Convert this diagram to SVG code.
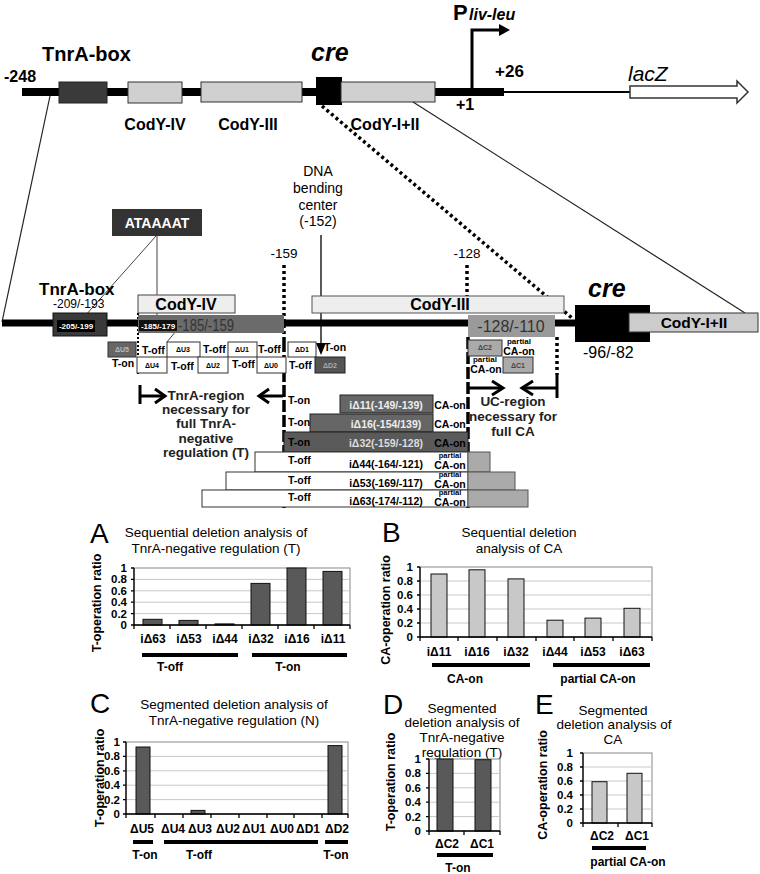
<svg xmlns="http://www.w3.org/2000/svg" width="760" height="874" viewBox="0 0 760 874">
<style>
text{font-family:"Liberation Sans",Arial,sans-serif;fill:#000}
.b{font-weight:bold}
.bi{font-weight:bold;font-style:italic}
.m{text-anchor:middle}
.e{text-anchor:end}
.lbl{font-size:10.5px;font-weight:bold}
.tiny{font-size:7px;font-weight:bold;text-anchor:middle}
.dbox{fill:#fff;stroke:#333;stroke-width:1}
.grid{stroke:#c8c8c8;stroke-width:1}
.frame{fill:#fff;stroke:#888;stroke-width:1}
.axis{stroke:#000;stroke-width:1.3;fill:none}
.ul{stroke:#000;stroke-width:4}
.dk{fill:#595959;stroke:#111;stroke-width:1}
.lt{fill:#c8c8c8;stroke:#111;stroke-width:1}
.tick{font-size:11.5px;font-weight:bold;text-anchor:end}
.cat{font-size:12px;font-weight:bold;text-anchor:middle}
.ttl{font-size:13.5px;text-anchor:middle}
.big{font-size:28px}
.chev{fill:none;stroke:#000;stroke-width:3}
</style>

<!-- ===== top map ===== -->
<g id="top-map">
<line x1="22" y1="92" x2="504" y2="92" stroke="#000" stroke-width="8"/>
<line x1="504" y1="92" x2="632" y2="92" stroke="#000" stroke-width="2"/>
<text x="4" y="82" class="b" font-size="16">-248</text>
</g>
<g id="top-tnra">
<rect x="59" y="82" width="48" height="21" fill="#3a3a3a" stroke="#222"/>
<text x="42" y="61" class="b" font-size="20">TnrA-box</text>
</g>
<g id="top-codyIV">
<rect x="128" y="82" width="54" height="21" fill="#d0d0d0" stroke="#333"/>
<text x="155" y="130" class="b m" font-size="16">CodY-IV</text>
</g>
<g id="top-codyIII">
<rect x="201" y="82" width="101" height="20" fill="#d0d0d0" stroke="#333"/>
<text x="248" y="130" class="b m" font-size="16">CodY-III</text>
</g>
<g id="top-cre">
<rect x="316" y="77" width="26" height="28" fill="#000"/>
<text x="311" y="61" class="bi" font-size="25">cre</text>
</g>
<g id="top-codyI">
<rect x="341" y="82" width="94" height="20" fill="#d0d0d0" stroke="#333"/>
<text x="385" y="130" class="b m" font-size="16">CodY-I+II</text>
</g>
<g id="promoter">
<path d="M472 92 V30 H500" fill="none" stroke="#000" stroke-width="3"/>
<polygon points="499,24 510,30 499,36" fill="#000"/>
<text x="453" y="20" class="b" font-size="22">P</text>
<text x="469" y="20" class="bi" font-size="16">liv-leu</text>
<text x="495" y="77" class="b" font-size="17">+26</text>
<text x="456" y="110" class="b" font-size="16">+1</text>
</g>
<g id="lacZ">
<path d="M630 86 H737 V81 L748 92 L737 103 V98 H630 Z" fill="#fff" stroke="#333" stroke-width="1.5"/>
<text x="628" y="81" font-size="21" font-style="italic">lacZ</text>
</g>

<!-- ===== connectors ===== -->
<g id="connectors" fill="none">
<line x1="50" y1="96" x2="2" y2="322" stroke="#222" stroke-width="1.2"/>
<line x1="322" y1="106" x2="572" y2="318" stroke="#000" stroke-width="3.5" stroke-dasharray="3,3"/>
<line x1="413" y1="102" x2="745" y2="313" stroke="#222" stroke-width="1.2"/>
<line x1="156" y1="236" x2="85" y2="316" stroke="#444" stroke-width="1"/>
<line x1="157" y1="236" x2="157" y2="322" stroke="#444" stroke-width="1"/>
<line x1="176" y1="331" x2="167" y2="342" stroke="#444" stroke-width="1"/>
<line x1="321" y1="235" x2="321" y2="345" stroke="#000" stroke-width="1.3"/>
<polygon points="316,343 326,343 321,355" fill="#000"/>
<line x1="284" y1="265" x2="284" y2="340" stroke="#000" stroke-width="3.5" stroke-dasharray="3,3"/>
<line x1="284" y1="340" x2="284" y2="508" stroke="#000" stroke-width="3.5" stroke-dasharray="12,3"/>
<line x1="467" y1="265" x2="467" y2="296" stroke="#000" stroke-width="3.5" stroke-dasharray="3,3"/>
<line x1="468" y1="337" x2="468" y2="508" stroke="#000" stroke-width="3.5" stroke-dasharray="12,3"/>
<line x1="557" y1="337" x2="557" y2="375" stroke="#000" stroke-width="3.5" stroke-dasharray="3,3"/>
<line x1="557" y1="375" x2="557" y2="398" stroke="#000" stroke-width="3"/>
<line x1="138" y1="313" x2="138" y2="374" stroke="#000" stroke-width="2" stroke-dasharray="2,2"/>
</g>

<g id="labels-pos">
<text x="284" y="258" class="m" font-size="13.5">-159</text>
<text x="467" y="258" class="m" font-size="13.5">-128</text>
<text x="318" y="176" class="m" font-size="14">DNA</text>
<text x="318" y="193" class="m" font-size="14">bending</text>
<text x="318" y="210" class="m" font-size="14">center</text>
<text x="318" y="226" class="m" font-size="14">(-152)</text>
</g>

<g id="ataaaat">
<rect x="112" y="209" width="90" height="27" fill="#333"/>
<text x="157" y="228" class="b m" font-size="14" style="fill:#fff">ATAAAAT</text>
</g>

<!-- ===== lower map ===== -->
<g id="lower-map">
<line x1="2" y1="323" x2="576" y2="323" stroke="#000" stroke-width="7"/>
</g>
<g id="lower-tnra">
<rect x="53" y="313" width="54" height="23" fill="#3a3a3a" stroke="#111"/>
<rect x="57" y="320" width="38" height="12" fill="#000"/>
<text x="76" y="329" class="b m" font-size="8" style="fill:#fff">-205/-199</text>
<text x="39" y="295" class="b" font-size="17">TnrA-box</text>
<text x="53" y="308" font-size="12">-209/-193</text>
</g>
<g id="lower-codyIV">
<rect x="138" y="295" width="97" height="18" fill="#eee" stroke="#444"/>
<text x="186" y="310" class="b m" font-size="16">CodY-IV</text>
</g>
<g id="seg-185">
<rect x="138" y="315" width="146" height="18" fill="#6b6b6b"/>
<text x="178" y="331" font-size="16" style="fill:#333" textLength="56" lengthAdjust="spacingAndGlyphs">-185/-159</text>
<rect x="139" y="320" width="38" height="11" fill="#111"/>
<text x="158" y="329" class="b m" font-size="8" style="fill:#fff">-185/-179</text>
</g>
<g id="lower-codyIII">
<rect x="312" y="296" width="252" height="17" fill="#eee" stroke="#555"/>
<text x="440" y="310" class="b m" font-size="16">CodY-III</text>
</g>
<g id="seg-128">
<rect x="468" y="315" width="87" height="22" fill="#9a9a9a"/>
<text x="511" y="332" class="m" font-size="16" style="fill:#333">-128/-110</text>
</g>
<g id="lower-cre">
<rect x="575" y="305" width="75" height="37" fill="#000"/>
<text x="588" y="297" class="bi" font-size="25">cre</text>
<text x="583" y="358" font-size="16">-96/-82</text>
</g>
<g id="lower-codyI">
<rect x="629" y="313" width="129" height="19" fill="#ccc" stroke="#333"/>
<text x="694" y="328" class="b m" font-size="15.5">CodY-I+II</text>
</g>

<!-- segmented deletions -->
<g id="dU5"><rect x="108" y="342" width="28" height="15" fill="#666" stroke="#333"/><text x="122" y="352" class="tiny" style="fill:#bbb">ΔU5</text></g>
<g id="dU3"><rect x="167" y="342" width="33" height="15" class="dbox"/><text x="183" y="352" class="tiny">ΔU3</text></g>
<g id="dU1"><rect x="228" y="342" width="29" height="15" class="dbox"/><text x="242" y="352" class="tiny">ΔU1</text></g>
<g id="dD1"><rect x="288" y="342" width="28" height="15" class="dbox"/><text x="302" y="352" class="tiny">ΔD1</text></g>
<g id="dU4"><rect x="137" y="357" width="30" height="16" class="dbox"/><text x="152" y="368" class="tiny">ΔU4</text></g>
<g id="dU2"><rect x="198" y="357" width="30" height="16" class="dbox"/><text x="213" y="368" class="tiny">ΔU2</text></g>
<g id="dU0"><rect x="257" y="357" width="29" height="16" class="dbox"/><text x="271" y="368" class="tiny">ΔU0</text></g>
<g id="dD2"><rect x="315" y="357" width="30" height="16" fill="#555" stroke="#222"/><text x="330" y="368" class="tiny" style="fill:#aaa">ΔD2</text></g>
<g id="seg-labels">
<text x="142" y="354" class="lbl">T-off</text>
<text x="203" y="353" class="lbl">T-off</text>
<text x="258" y="353" class="lbl">T-off</text>
<text x="324" y="351" class="lbl">T-on</text>
<text x="112" y="367" class="lbl">T-on</text>
<text x="171" y="370" class="lbl">T-off</text>
<text x="232" y="368" class="lbl">T-off</text>
<text x="289" y="369" class="lbl">T-off</text>
</g>
<g id="dC2"><rect x="468" y="340" width="34" height="16" fill="#aaa" stroke="#333"/><text x="485" y="350" class="tiny" style="fill:#444">ΔC2</text></g>
<g id="dC1"><rect x="503" y="357" width="30" height="16" fill="#aaa" stroke="#333"/><text x="518" y="368" class="tiny" style="fill:#444">ΔC1</text></g>
<g id="c-labels">
<text x="519" y="344" class="b m" font-size="8">partial</text>
<text x="519" y="355" class="b m" font-size="10.5">CA-on</text>
<text x="485" y="362" class="b m" font-size="8">partial</text>
<text x="486" y="373" class="b m" font-size="10.5">CA-on</text>
</g>

<g id="uc-region">
<line x1="468" y1="388" x2="501" y2="388" stroke="#000" stroke-width="3"/>
<path d="M492 381 L503 388 L492 395" class="chev"/>
<line x1="557" y1="388" x2="524" y2="388" stroke="#000" stroke-width="3"/>
<path d="M533 381 L522 388 L533 395" class="chev"/>
<text x="513" y="406" class="b m" font-size="13.5" style="fill:#222">UC-region</text>
<text x="513" y="421" class="b m" font-size="13.5" style="fill:#222">necessary for</text>
<text x="513" y="436" class="b m" font-size="13.5" style="fill:#222">full CA</text>
</g>
<g id="tnra-region">
<line x1="140" y1="385" x2="140" y2="404" stroke="#000" stroke-width="3"/>
<line x1="140" y1="396" x2="163" y2="396" stroke="#000" stroke-width="3"/>
<path d="M155 389 L165 396 L155 403" class="chev"/>
<line x1="283" y1="396" x2="260" y2="396" stroke="#000" stroke-width="3"/>
<path d="M269 389 L259 396 L269 403" class="chev"/>
<text x="206" y="400" class="b m" font-size="13.5" style="fill:#222">TnrA-region</text>
<text x="206" y="414" class="b m" font-size="13.5" style="fill:#222">necessary for</text>
<text x="206" y="428" class="b m" font-size="13.5" style="fill:#222">full TnrA-</text>
<text x="206" y="443" class="b m" font-size="13.5" style="fill:#222">negative</text>
<text x="206" y="457" class="b m" font-size="13.5" style="fill:#222">regulation (T)</text>
</g>

<!-- internal deletions -->
<g id="i11"><rect x="340" y="395" width="93" height="18" fill="#666" stroke="#222"/><text x="386" y="409" class="lbl m" style="fill:#eee">iΔ11(-149/-139)</text><text x="288" y="404" class="lbl">T-on</text><text x="450" y="409" class="lbl m">CA-on</text></g>
<g id="i16"><rect x="310" y="414" width="123" height="18" fill="#666" stroke="#222"/><text x="386" y="428" class="lbl m" style="fill:#eee">iΔ16(-154/139)</text><text x="288" y="426" class="lbl">T-on</text><text x="450" y="428" class="lbl m">CA-on</text></g>
<g id="i32"><rect x="284" y="432" width="184" height="20" fill="#5a5a5a" stroke="#222"/><text x="386" y="447" class="lbl m" style="fill:#ddd">iΔ32(-159/-128)</text><text x="288" y="446" class="lbl">T-on</text><text x="450" y="447" class="lbl m">CA-on</text></g>
<g id="i44"><rect x="255" y="452" width="213" height="20" class="dbox"/><rect x="468" y="452" width="22" height="20" fill="#aaa" stroke="#555"/><text x="386" y="468" class="lbl m">iΔ44(-164/-121)</text><text x="288" y="464" class="lbl">T-off</text><text x="450" y="458" class="b m" font-size="7.5">partial</text><text x="450" y="469" class="lbl m">CA-on</text></g>
<g id="i53"><rect x="226" y="472" width="242" height="18" class="dbox"/><rect x="468" y="472" width="47" height="18" fill="#aaa" stroke="#555"/><text x="386" y="487" class="lbl m">iΔ53(-169/-117)</text><text x="288" y="484" class="lbl">T-off</text><text x="450" y="477" class="b m" font-size="7.5">partial</text><text x="450" y="488" class="lbl m">CA-on</text></g>
<g id="i63"><rect x="202" y="490" width="266" height="17" class="dbox"/><rect x="468" y="490" width="60" height="17" fill="#aaa" stroke="#555"/><text x="386" y="505" class="lbl m">iΔ63(-174/-112)</text><text x="288" y="501" class="lbl">T-off</text><text x="450" y="495" class="b m" font-size="7.5">partial</text><text x="450" y="506" class="lbl m">CA-on</text></g>

<!-- ===== Chart A ===== -->
<g id="chartA">
<text x="90" y="543" class="big">A</text>
<text x="216" y="537" class="ttl">Sequential deletion analysis of</text>
<text x="216" y="553" class="ttl">TnrA-negative regulation (T)</text>
<text transform="translate(101,603) rotate(-90)" class="b m" font-size="12.5">T-operation ratio</text>
<rect x="134" y="568" width="216" height="57" class="frame"/>
<line x1="134" y1="579.4" x2="350" y2="579.4" class="grid"/>
<line x1="134" y1="590.8" x2="350" y2="590.8" class="grid"/>
<line x1="134" y1="602.2" x2="350" y2="602.2" class="grid"/>
<line x1="134" y1="613.6" x2="350" y2="613.6" class="grid"/>
<rect x="143" y="619.3" width="19" height="5.7" class="dk"/>
<rect x="179" y="620.4" width="19" height="4.6" class="dk"/>
<rect x="215" y="623.9" width="19" height="1.1" class="dk"/>
<rect x="251" y="583.4" width="19" height="41.6" class="dk"/>
<rect x="287" y="568" width="19" height="57" class="dk"/>
<rect x="323" y="571.4" width="19" height="53.6" class="dk"/>
<path d="M134 568 V625 H350 M131 568 H134 M131 579.4 H134 M131 590.8 H134 M131 602.2 H134 M131 613.6 H134 M131 625 H134 M134 625 V629 M170 625 V629 M206 625 V629 M242 625 V629 M278 625 V629 M314 625 V629 M350 625 V629" class="axis"/>
<text x="127" y="572" class="tick">1</text>
<text x="127" y="583.4" class="tick">0.8</text>
<text x="127" y="594.8" class="tick">0.6</text>
<text x="127" y="606.2" class="tick">0.4</text>
<text x="127" y="617.6" class="tick">0.2</text>
<text x="127" y="629" class="tick">0</text>
<text x="153" y="643" class="cat">iΔ63</text>
<text x="189" y="643" class="cat">iΔ53</text>
<text x="225" y="643" class="cat">iΔ44</text>
<text x="261" y="643" class="cat">iΔ32</text>
<text x="297" y="643" class="cat">iΔ16</text>
<text x="333" y="643" class="cat">iΔ11</text>
<line x1="142" y1="655" x2="238" y2="655" class="ul"/>
<line x1="252" y1="655" x2="347" y2="655" class="ul"/>
<text x="170" y="671" class="cat">T-off</text>
<text x="288" y="671" class="cat">T-on</text>
</g>

<!-- ===== Chart B ===== -->
<g id="chartB">
<text x="382" y="542" class="big">B</text>
<text x="519" y="537" class="ttl">Sequential deletion</text>
<text x="519" y="553" class="ttl">analysis of CA</text>
<text transform="translate(390,610) rotate(-90)" class="b m" font-size="12.5">CA-operation ratio</text>
<rect x="420" y="567" width="232" height="70" class="frame"/>
<line x1="420" y1="581" x2="652" y2="581" class="grid"/>
<line x1="420" y1="595" x2="652" y2="595" class="grid"/>
<line x1="420" y1="609" x2="652" y2="609" class="grid"/>
<line x1="420" y1="623" x2="652" y2="623" class="grid"/>
<rect x="431" y="574" width="16" height="63" class="lt"/>
<rect x="469" y="569.8" width="16" height="67.2" class="lt"/>
<rect x="508" y="578.9" width="16" height="58.1" class="lt"/>
<rect x="547" y="620.2" width="16" height="16.8" class="lt"/>
<rect x="585" y="618.1" width="16" height="18.9" class="lt"/>
<rect x="624" y="608.3" width="16" height="28.7" class="lt"/>
<path d="M420 567 V637 H652 M417 567 H420 M417 581 H420 M417 595 H420 M417 609 H420 M417 623 H420 M417 637 H420 M420 637 V641 M458 637 V641 M497 637 V641 M536 637 V641 M574 637 V641 M613 637 V641 M652 637 V641" class="axis"/>
<text x="413" y="571" class="tick">1</text>
<text x="413" y="585" class="tick">0.8</text>
<text x="413" y="599" class="tick">0.6</text>
<text x="413" y="613" class="tick">0.4</text>
<text x="413" y="627" class="tick">0.2</text>
<text x="413" y="641" class="tick">0</text>
<text x="439" y="656" class="cat">iΔ11</text>
<text x="477" y="656" class="cat">iΔ16</text>
<text x="516" y="656" class="cat">iΔ32</text>
<text x="555" y="656" class="cat">iΔ44</text>
<text x="593" y="656" class="cat">iΔ53</text>
<text x="632" y="656" class="cat">iΔ63</text>
<line x1="432" y1="665" x2="530" y2="665" class="ul"/>
<line x1="553" y1="665" x2="650" y2="665" class="ul"/>
<text x="465" y="683" class="cat">CA-on</text>
<text x="598" y="683" class="cat">partial CA-on</text>
</g>

<!-- ===== Chart C ===== -->
<g id="chartC">
<text x="90" y="713" class="big">C</text>
<text x="234" y="709" class="ttl">Segmented deletion analysis of</text>
<text x="234" y="725" class="ttl">TnrA-negative regulation (N)</text>
<text transform="translate(104,778) rotate(-90)" class="b m" font-size="12.5">T-operation ratio</text>
<rect x="126" y="742" width="222" height="72" class="frame"/>
<line x1="126" y1="756.4" x2="348" y2="756.4" class="grid"/>
<line x1="126" y1="770.8" x2="348" y2="770.8" class="grid"/>
<line x1="126" y1="785.2" x2="348" y2="785.2" class="grid"/>
<line x1="126" y1="799.6" x2="348" y2="799.6" class="grid"/>
<rect x="136" y="747" width="14" height="67" class="dk"/>
<rect x="191" y="810.4" width="14" height="3.6" class="dk"/>
<rect x="328" y="745.6" width="14" height="68.4" class="dk"/>
<path d="M126 742 V814 H348 M123 742 H126 M123 756.4 H126 M123 770.8 H126 M123 785.2 H126 M123 799.6 H126 M123 814 H126 M126 814 V818 M155 814 V818 M183 814 V818 M211 814 V818 M239 814 V818 M267 814 V818 M294 814 V818 M322 814 V818 M348 814 V818" class="axis"/>
<text x="120" y="746" class="tick">1</text>
<text x="120" y="760.4" class="tick">0.8</text>
<text x="120" y="774.8" class="tick">0.6</text>
<text x="120" y="789.2" class="tick">0.4</text>
<text x="120" y="803.6" class="tick">0.2</text>
<text x="120" y="818" class="tick">0</text>
<text x="142" y="833" class="cat" font-size="11">ΔU5</text>
<text x="173" y="833" class="cat" font-size="11">ΔU4</text>
<text x="200" y="833" class="cat" font-size="11">ΔU3</text>
<text x="228" y="833" class="cat" font-size="11">ΔU2</text>
<text x="254" y="833" class="cat" font-size="11">ΔU1</text>
<text x="282" y="833" class="cat" font-size="11">ΔU0</text>
<text x="308" y="833" class="cat" font-size="11">ΔD1</text>
<text x="337" y="833" class="cat" font-size="11">ΔD2</text>
<line x1="133" y1="842" x2="153" y2="842" class="ul"/>
<line x1="164" y1="842" x2="318" y2="842" class="ul"/>
<line x1="325" y1="842" x2="348" y2="842" class="ul"/>
<text x="145" y="859" class="cat">T-on</text>
<text x="199" y="859" class="cat">T-off</text>
<text x="336" y="859" class="cat">T-on</text>
</g>

<!-- ===== Chart D ===== -->
<g id="chartD">
<text x="383" y="714" class="big">D</text>
<text x="462" y="713" class="ttl">Segmented</text>
<text x="462" y="727" class="ttl">deletion analysis of</text>
<text x="462" y="742" class="ttl">TnrA-negative</text>
<text x="462" y="757" class="ttl">regulation (T)</text>
<text transform="translate(395,782) rotate(-90)" class="b m" font-size="12.5">T-operation ratio</text>
<rect x="429" y="759" width="71" height="72" class="frame"/>
<line x1="429" y1="773.4" x2="500" y2="773.4" class="grid"/>
<line x1="429" y1="787.8" x2="500" y2="787.8" class="grid"/>
<line x1="429" y1="802.2" x2="500" y2="802.2" class="grid"/>
<line x1="429" y1="816.6" x2="500" y2="816.6" class="grid"/>
<rect x="437" y="759" width="16" height="72" class="dk"/>
<rect x="475" y="759.7" width="16" height="71.3" class="dk"/>
<path d="M429 759 V831 H500 M426 759 H429 M426 773.4 H429 M426 787.8 H429 M426 802.2 H429 M426 816.6 H429 M426 831 H429 M429 831 V835 M464 831 V835 M500 831 V835" class="axis"/>
<text x="421" y="763" class="tick">1</text>
<text x="421" y="777.4" class="tick">0.8</text>
<text x="421" y="791.8" class="tick">0.6</text>
<text x="421" y="806.2" class="tick">0.4</text>
<text x="421" y="820.6" class="tick">0.2</text>
<text x="421" y="835" class="tick">0</text>
<text x="447" y="848" class="cat" font-size="11">ΔC2</text>
<text x="482" y="848" class="cat" font-size="11">ΔC1</text>
<line x1="437" y1="855" x2="493" y2="855" class="ul"/>
<text x="458" y="872" class="cat" font-size="11">T-on</text>
</g>

<!-- ===== Chart E ===== -->
<g id="chartE">
<text x="535" y="714" class="big">E</text>
<text x="613" y="715" class="ttl">Segmented</text>
<text x="614" y="729" class="ttl">deletion analysis of</text>
<text x="613" y="744" class="ttl">CA</text>
<text transform="translate(547,785) rotate(-90)" class="b m" font-size="12.5">CA-operation ratio</text>
<rect x="583" y="753" width="69" height="70" class="frame"/>
<line x1="583" y1="767" x2="652" y2="767" class="grid"/>
<line x1="583" y1="781" x2="652" y2="781" class="grid"/>
<line x1="583" y1="795" x2="652" y2="795" class="grid"/>
<line x1="583" y1="809" x2="652" y2="809" class="grid"/>
<rect x="592" y="781.7" width="15" height="41.3" class="lt"/>
<rect x="627" y="773.3" width="15" height="49.7" class="lt"/>
<path d="M583 753 V823 H652 M580 753 H583 M580 767 H583 M580 781 H583 M580 795 H583 M580 809 H583 M580 823 H583 M583 823 V827 M618 823 V827 M652 823 V827" class="axis"/>
<text x="573" y="757" class="tick">1</text>
<text x="573" y="771" class="tick">0.8</text>
<text x="573" y="785" class="tick">0.6</text>
<text x="573" y="799" class="tick">0.4</text>
<text x="573" y="813" class="tick">0.2</text>
<text x="573" y="827" class="tick">0</text>
<text x="602" y="840" class="cat" font-size="11">ΔC2</text>
<text x="637" y="840" class="cat" font-size="11">ΔC1</text>
<line x1="592" y1="848" x2="646" y2="848" class="ul"/>
<text x="628" y="866" class="cat">partial  CA-on</text>
</g>
</svg>
